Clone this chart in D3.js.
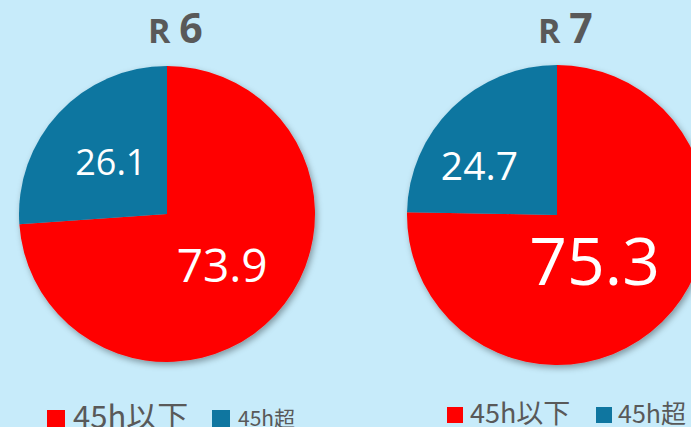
<!DOCTYPE html>
<html>
<head>
<meta charset="utf-8">
<script src="https://cdn.jsdelivr.net/npm/d3@7"></script>
<style>
  html, body { margin: 0; padding: 0; background: #c7ebfa; overflow: hidden; }
  svg { display: block; }
</style>
</head>
<body>
<div id="chart"></div>
<script>
// ── Data ──────────────────────────────────────────────────────────────────────
const categories = ['45h以下', '45h超'];
const years      = ['6', '7'];          // 令和 R6 / R7
const valuesR6   = [73.9, 26.1];
const valuesR7   = [75.3, 24.7];
const colors     = ['#ff0000', '#0f76a0'];

// ── Layout (per panel) ────────────────────────────────────────────────────────
const W = 691, H = 427;
const panels = [
  { values: valuesR6, cx: 167, cy: 214, r: 148, titleX: 148,
    labels: [ { size: 46, dx: 0, dy: 0 }, { size: 36, dx: -1, dy: 0 } ],
    legend: [ { box: 47, text: 73, by: 410, bs: 18, size: 31, base: 428 },
              { box: 212, text: 238, by: 410, bs: 18, size: 21, base: 426 } ] },
  { values: valuesR7, cx: 557, cy: 215, r: 150, titleX: 538,
    labels: [ { size: 66, dx: -16, dy: -8.5 }, { size: 39, dx: -24, dy: 5.5 } ],
    legend: [ { box: 447, text: 470, by: 407, bs: 16, size: 27, base: 423 },
              { box: 596, text: 618, by: 407, bs: 16, size: 25, base: 423 } ] },
];

const svg = d3.select('#chart').append('svg')
  .attr('width', W).attr('height', H);

const defs = svg.append('defs');
defs.append('filter').attr('id', 'shadow')
  .attr('x', '-20%').attr('y', '-20%').attr('width', '140%').attr('height', '140%')
  .append('feDropShadow')
  .attr('dx', 2).attr('dy', 3).attr('stdDeviation', 3)
  .attr('flood-color', '#000').attr('flood-opacity', 0.35);

const pie = d3.pie().sort(null).value(d => d);
const NUM_FONT = '"Open Sans", "Noto Sans", sans-serif';
const JP_FONT  = '"Noto Sans CJK JP", "Noto Sans", sans-serif';

panels.forEach((p, i) => {
  const g = svg.append('g').attr('transform', `translate(${p.cx},${p.cy})`);
  const arc = d3.arc().innerRadius(0).outerRadius(p.r);
  const labelArc = d3.arc().innerRadius(p.r * 0.51).outerRadius(p.r * 0.51);
  const arcs = pie(p.values);

  // ── Slices ──────────────────────────────────────────────────────────────
  const slices = g.append('g').attr('filter', 'url(#shadow)');
  slices.selectAll('path').data(arcs).join('path')
    .attr('d', arc)
    .attr('fill', (d, k) => colors[k]);

  // ── Value labels ────────────────────────────────────────────────────────
  g.selectAll('text.val').data(arcs).join('text')
    .attr('class', 'val')
    .attr('x', (d, k) => labelArc.centroid(d)[0] + p.labels[k].dx)
    .attr('y', (d, k) => labelArc.centroid(d)[1] + p.labels[k].dy)
    .attr('dy', '0.36em')
    .attr('text-anchor', 'middle')
    .attr('font-family', NUM_FONT)
    .attr('font-size', (d, k) => p.labels[k].size)
    .attr('fill', '#fff')
    .text(d => d.data.toFixed(1));

  // ── Title ───────────────────────────────────────────────────────────────
  const t = svg.append('text')
    .attr('x', p.titleX).attr('y', 43)
    .attr('font-family', NUM_FONT)
    .attr('font-weight', 'bold')
    .attr('fill', '#595959');
  t.append('tspan').attr('font-size', 34).text('R ');
  t.append('tspan').attr('font-size', 41).text(years[i]);

  // ── Legend ──────────────────────────────────────────────────────────────
  p.legend.forEach((L, k) => {
    svg.append('rect')
      .attr('x', L.box).attr('y', L.by)
      .attr('width', L.bs).attr('height', L.bs)
      .attr('fill', colors[k]);
    svg.append('text')
      .attr('x', L.text).attr('y', L.base)
      .attr('font-family', JP_FONT)
      .attr('font-size', L.size)
      .attr('fill', '#595959')
      .text(categories[k]);
  });
});
</script>
</body>
</html>
